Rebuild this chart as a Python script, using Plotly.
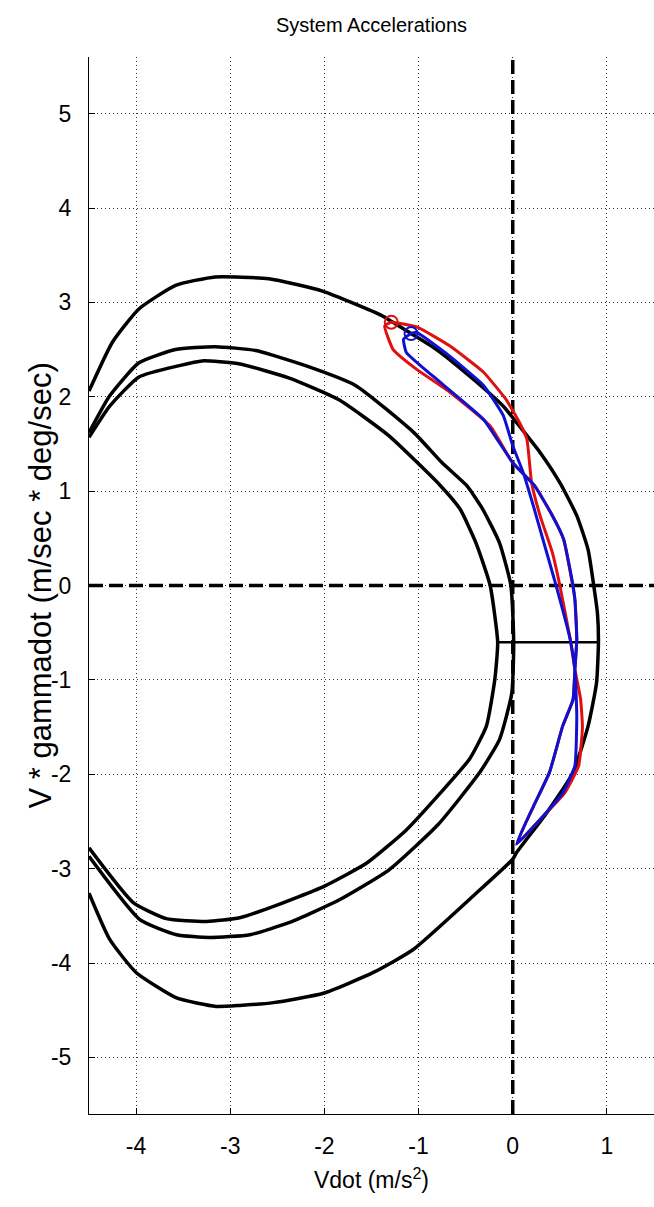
import plotly.graph_objects as go

# ---------------- data ----------------
outer_x = [-4.50, -4.25, -3.97, -3.58, -3.16, -2.59, -2.02, -1.39, -1.29, -1.08, -0.81, -0.46,
           -0.10, 0.03, 0.29, 0.50, 0.68, 0.80, 0.86, 0.90, 0.91, 0.89, 0.80, 0.64, 0.36, 0.04,
           0.00, -0.42, -1.06, -1.48, -2.01, -2.54, -2.90, -3.15, -3.57, -4.00, -4.28, -4.50]
outer_y = [2.06, 2.58, 2.93, 3.18, 3.27, 3.25, 3.12, 2.86, 2.80, 2.67, 2.50, 2.22,
           1.90, 1.74, 1.41, 1.09, 0.74, 0.38, 0.00, -0.30, -0.60, -1.03, -1.49, -1.98, -2.41, -2.83,
           -2.90, -3.29, -3.86, -4.10, -4.32, -4.42, -4.45, -4.46, -4.37, -4.10, -3.75, -3.26]

mid_x = [-4.50, -4.28, -3.97, -3.58, -3.16, -2.73, -2.20, -1.67, -1.05, -0.75, -0.49, -0.32,
         -0.14, -0.02, 0.01, -0.01, -0.14, -0.35, -0.79, -1.31, -1.84, -2.37, -2.79, -3.22,
         -3.57, -3.96, -4.50]
mid_y = [1.62, 2.01, 2.36, 2.50, 2.53, 2.49, 2.33, 2.12, 1.62, 1.30, 1.06, 0.81,
         0.45, 0.00, -0.60, -1.14, -1.63, -1.98, -2.53, -3.01, -3.33, -3.57, -3.70, -3.73,
         -3.70, -3.54, -2.87]

inner_x = [-4.50, -4.28, -3.97, -3.54, -3.30, -2.91, -2.38, -1.85, -1.32, -0.77, -0.56, -0.39,
           -0.24, -0.16, -0.19, -0.28, -0.46, -0.77, -1.13, -1.55, -2.01, -2.54, -2.90, -3.25,
           -3.68, -4.03, -4.50]
inner_y = [1.57, 1.90, 2.21, 2.33, 2.38, 2.35, 2.20, 1.97, 1.59, 1.06, 0.81, 0.45,
           0.00, -0.60, -0.99, -1.49, -1.84, -2.20, -2.59, -2.94, -3.19, -3.40, -3.52, -3.56,
           -3.53, -3.36, -2.78]

bar_x = [-0.16, 0.91]
bar_y = [-0.60, -0.60]

red_x = [-1.29, -1.02, -0.67, -0.31, -0.07, 0.07, 0.15, 0.20, 0.29, 0.42, 0.50, 0.61, 0.66,
         0.72, 0.74, 0.70, 0.55, 0.29, 0.04, 0.22, 0.39, 0.53, 0.64, 0.66, 0.68, 0.66, 0.54,
         0.41, 0.23, 0.00, -0.24, -0.67, -1.02, -1.27, -1.36, -1.29]
red_y = [2.79, 2.74, 2.54, 2.26, 1.97, 1.73, 1.55, 1.09, 0.74, 0.35, 0.00, -0.57, -0.89,
         -1.20, -1.50, -1.91, -2.20, -2.48, -2.74, -2.34, -1.98, -1.49, -1.21, -0.89, -0.57, -0.15, 0.49,
         0.76, 1.06, 1.30, 1.69, 2.05, 2.29, 2.50, 2.75, 2.79]

blue_x = [-1.08, -1.02, -0.67, -0.31, -0.10, 0.00, 0.11, 0.22, 0.32, 0.46, 0.61, 0.66, 0.68,
          0.66, 0.53, 0.29, 0.04, 0.22, 0.39, 0.53, 0.64, 0.66, 0.68, 0.66, 0.64, 0.54, 0.41,
          0.23, 0.00, -0.31, -0.85, -1.13, -1.16, -1.08]
blue_y = [2.67, 2.68, 2.43, 2.12, 1.80, 1.48, 1.20, 0.84, 0.49, 0.00, -0.57, -0.89, -1.38,
          -1.91, -2.20, -2.48, -2.74, -2.34, -1.98, -1.49, -1.21, -0.89, -0.57, -0.15, 0.00, 0.49, 0.76,
          1.06, 1.30, 1.76, 2.22, 2.47, 2.61, 2.67]

start_x = [-1.29, -1.08]
start_y = [2.79, 2.67]

x_range = [-4.5, 1.5]
y_range = [-5.6, 5.6]
x_ticks = [-4, -3, -2, -1, 0, 1]
y_ticks = [-5, -4, -3, -2, -1, 0, 1, 2, 3, 4, 5]

# ---------------- figure ----------------
FONT = "Liberation Sans, Arial, Helvetica, sans-serif"
fig = go.Figure()

black = dict(color="black", width=3.5, shape="spline", smoothing=0.5)
for xs, ys in [(outer_x, outer_y), (mid_x, mid_y), (inner_x, inner_y)]:
    fig.add_trace(go.Scatter(x=xs, y=ys, mode="lines", line=black, hoverinfo="skip"))

fig.add_trace(go.Scatter(x=bar_x, y=bar_y, mode="lines", line=dict(color="black", width=2.5)))

# dashed reference axes
dash = dict(color="black", width=3.5, dash="14px,6px")
fig.add_trace(go.Scatter(x=[x_range[0], x_range[1]], y=[0, 0], mode="lines", line=dash))
fig.add_trace(go.Scatter(x=[0, 0], y=[y_range[0], y_range[1]], mode="lines", line=dash))

fig.add_trace(go.Scatter(x=red_x, y=red_y, mode="lines",
                         line=dict(color="#e01010", width=3, shape="spline", smoothing=0.4)))
fig.add_trace(go.Scatter(x=blue_x, y=blue_y, mode="lines",
                         line=dict(color="#1010d0", width=3, shape="spline", smoothing=0.4)))
fig.add_trace(go.Scatter(x=start_x[:1], y=start_y[:1], mode="markers",
                         marker=dict(symbol="circle-open", size=13, color="#e01010",
                                     line=dict(width=2, color="#e01010"))))
fig.add_trace(go.Scatter(x=start_x[1:], y=start_y[1:], mode="markers",
                         marker=dict(symbol="circle-open", size=13, color="#1010d0",
                                     line=dict(width=2, color="#1010d0"))))

axis_common = dict(
    showgrid=True, gridcolor="#333333", gridwidth=1, griddash="1px,3px",
    zeroline=False, showline=True, linecolor="black", linewidth=1,
    ticks="inside", ticklen=6, tickcolor="black", tickwidth=1,
    tickfont=dict(family=FONT, size=23, color="black"),
    mirror=False,
)

fig.update_layout(
    width=654, height=1207,
    margin=dict(l=89, r=0, t=57, b=93),
    paper_bgcolor="white", plot_bgcolor="white",
    showlegend=False,
    font=dict(family=FONT, color="black"),
    title=dict(text="System Accelerations", font=dict(family=FONT, size=20, color="black"),
               x=0.5, xref="paper", xanchor="center",
               y=1 - 25 / 1207, yref="container", yanchor="middle"),
    xaxis=dict(range=x_range, tickvals=x_ticks, ticktext=[str(v) for v in x_ticks],
               title=dict(text="Vdot (m/s<sup>2</sup>)", font=dict(family=FONT, size=23), standoff=14),
               ticklabelstandoff=11, **axis_common),
    yaxis=dict(range=y_range, tickvals=y_ticks, ticktext=[str(v) for v in y_ticks],
               ticklabelstandoff=12, **axis_common),
    annotations=[dict(text="V * gammadot (m/sec * deg/sec)", textangle=-90,
                      xref="paper", yref="paper", x=(40 - 89) / 565, y=0.5,
                      xanchor="center", yanchor="middle", showarrow=False,
                      font=dict(family=FONT, size=31, color="black"))],
)

fig.write_html("out.html")
